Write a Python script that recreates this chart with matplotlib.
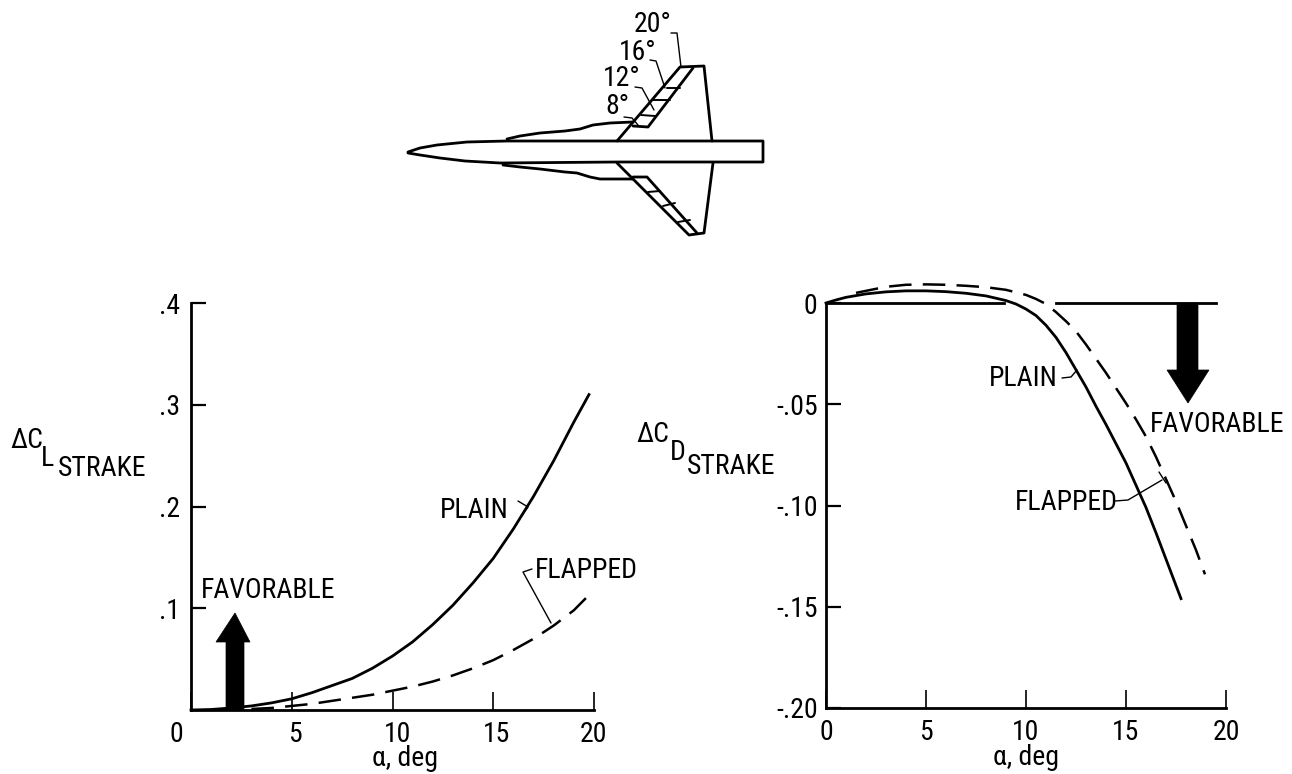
import matplotlib
matplotlib.use("Agg")
import matplotlib.pyplot as plt
from matplotlib.patches import Polygon
from matplotlib.textpath import TextPath
from matplotlib.font_manager import FontProperties
from matplotlib.transforms import ScaledTranslation

plt.rcParams['font.family'] = ['Liberation Sans Narrow', 'Roboto Condensed', 'Open Sans Condensed', 'Roboto', 'DejaVu Sans']

# ---- data ----
cl_plain_a = [0, 1, 2, 3, 4, 5, 6, 7, 8, 9, 10, 11, 12, 13, 14, 15, 16, 17, 18, 19, 19.75]
cl_plain_v = [0, .0005, .002, .004, .007, .011, .017, .024, .031, .041, .053, .067, .084, .103, .125, .149, .178, .210, .245, .283, .310]
cl_flap_a = [3, 4, 5, 6, 7, 8, 9, 10, 11, 12, 13, 14, 15, 16, 17, 18, 19, 19.85]
cl_flap_v = [.001, .002, .004, .006, .009, .012, .015, .019, .023, .028, .034, .041, .049, .059, .070, .083, .098, .115]

cd_plain_a = [0, .5, 1, 2, 3, 4, 5, 6, 7, 8, 9, 9.5, 10, 10.5, 11, 11.5, 12, 12.5, 13, 13.5, 14, 14.5, 15, 15.5, 16, 16.5, 17, 17.75]
cd_plain_v = [0, .0015, .0028, .0045, .0055, .006, .006, .0056, .0048, .0035, .0012, -.0005, -.003, -.0062, -.011, -.017, -.0245, -.033, -.0415, -.051, -.060, -.0695, -.079, -.090, -.101, -.1135, -.1265, -.146]
cd_flap_a = [1.5, 2, 3, 4, 5, 6, 7, 8, 9, 10, 10.5, 11, 11.5, 12, 12.5, 13, 13.5, 14, 14.5, 15, 15.5, 16, 16.5, 17, 17.5, 18, 18.5, 18.95]
cd_flap_v = [.005, .006, .008, .009, .0092, .009, .0085, .0078, .0065, .004, .002, -.0005, -.0045, -.009, -.014, -.0205, -.0275, -.0345, -.042, -.0495, -.0575, -.066, -.076, -.087, -.098, -.110, -.122, -.134]
cd_zero_left = [0, 8.9]
cd_zero_right = [11.5, 19.5]

x_ticks = [0, 5, 10, 15, 20]
x_labels = ['0', '5', '10', '15', '20']
cl_ticks = [0.1, 0.2, 0.3, 0.4]
cl_labels = ['.1', '.2', '.3', '.4']
cd_ticks = [0, -0.05, -0.10, -0.15, -0.20]
cd_labels = ['0', '-.05', '-.10', '-.15', '-.20']

# ---- schematic outline (pixel space of the figure) ----
fuselage = [(408, 152), (420, 148), (437, 145), (467, 142), (507, 141), (617, 141), (763, 141), (763, 162),
            (617, 162), (500, 163), (465, 161), (440, 158), (420, 155), (408, 153)]
strake_up = [(507, 139), (520, 136), (540, 133), (565, 131), (580, 129), (593, 125), (610, 123), (633, 122)]
strake_lo = [(503, 165), (520, 167), (540, 169), (565, 172), (577, 173), (590, 177), (600, 179), (633, 179)]
wing_up = [(617, 141), (680, 67), (704, 66), (712, 141)]
wing_lo = [(617, 163), (689, 235), (704, 233), (713, 163)]
hinge_up = [(693, 68), (648, 127), (633, 126)]
hinge_lo = [(697, 233), (647, 177), (633, 177)]
flap_cuts = [[(641, 115), (655, 116)], [(653, 100), (670, 100)], [(667, 88), (680, 88)],
             [(648, 192), (660, 191)], [(663, 206), (675, 203)], [(678, 222), (690, 220)]]
leaders_top = [[(671, 33), (677, 33), (681, 67)], [(650, 60), (656, 61), (665, 88)],
               [(635, 87), (642, 88), (654, 110)], [(624, 117), (632, 118), (638, 125)]]
angle_labels = [('20°', 653, 25), ('16°', 638, 52), ('12°', 622, 78), ('8°', 617, 106)]

W, H = 1292, 774
fig = plt.figure(figsize=(W / 100, H / 100), dpi=100, facecolor='white')

# font size chosen so that FAVORABLE is as wide as in the reference (131 px)
probe = TextPath((0, 0), 'FAVORABLE', size=10, prop=FontProperties())
FS = 10 * (131 * 0.72) / probe.get_extents().width


def axes_px(l, r, top, bottom):
    return fig.add_axes([l / W, 1 - bottom / H, (r - l) / W, (bottom - top) / H])


AXLW = 2.0

# ---- left panel ----
ax1 = axes_px(191, 594, 303, 710)
ax1.set_xlim(0, 20)
ax1.set_ylim(0, 0.4)
ax1.plot(cl_plain_a, cl_plain_v, color='black', lw=2.0, clip_on=False)
ax1.plot(cl_flap_a, cl_flap_v, color='black', lw=1.8, dashes=(9, 4.5), clip_on=False)
ax1.set_yticks(cl_ticks, cl_labels)
ax1.set_xticks(x_ticks, x_labels)
ax1.tick_params(axis='x', direction='in', length=13, width=1.2, pad=8, labelsize=FS)
ax1.tick_params(axis='y', direction='in', length=11, width=1.6, pad=8, labelsize=FS)
for lab, dx in zip(ax1.get_xticklabels(), [-15, 3, 5, 3, -1]):
    lab.set_transform(lab.get_transform() + ScaledTranslation(dx / 100, 0, fig.dpi_scale_trans))
ax1.set_xlabel('α, deg', fontsize=FS, va='center')
ax1.xaxis.set_label_coords(0.531, -0.120)

# ---- right panel ----
ax2 = axes_px(826, 1226, 303, 708)
ax2.set_xlim(0, 20)
ax2.set_ylim(-0.20, 0)
ax2.plot(cd_plain_a, cd_plain_v, color='black', lw=2.0, clip_on=False)
ax2.plot(cd_flap_a, cd_flap_v, color='black', lw=1.8, dashes=(9, 4.5), clip_on=False)
ax2.plot(cd_zero_left, [0, 0], color='black', lw=AXLW, clip_on=False)
ax2.plot(cd_zero_right, [0, 0], color='black', lw=AXLW, clip_on=False)
ax2.set_yticks(cd_ticks, cd_labels)
ax2.set_xticks(x_ticks, x_labels)
ax2.tick_params(axis='x', direction='in', length=13, width=1.2, pad=8, labelsize=FS)
ax2.tick_params(axis='y', direction='in', length=11, width=1.6, pad=6, labelsize=FS)
ax2.set_xlabel('α, deg', fontsize=FS, va='center')
ax2.xaxis.set_label_coords(0.5, -0.123)

for ax in (ax1, ax2):
    ax.patch.set_alpha(0)
    ax.spines['top'].set_visible(False)
    ax.spines['right'].set_visible(False)
    ax.spines['left'].set_linewidth(AXLW)
    ax.spines['bottom'].set_linewidth(AXLW)

# ---- overlay in pixel space ----
ov = fig.add_axes([0, 0, 1, 1], zorder=5)
ov.set_xlim(0, W)
ov.set_ylim(H, 0)
ov.axis('off')


def poly(pts, lw=1.8):
    ov.plot([p[0] for p in pts], [p[1] for p in pts], color='black', lw=lw,
            solid_joinstyle='round', solid_capstyle='round')


for shape in (fuselage, wing_up, wing_lo, strake_up, strake_lo, hinge_up, hinge_lo):
    poly(shape, 2.0)
for cut in flap_cuts:
    poly(cut, 1.4)
for lead in leaders_top:
    poly(lead, 1.0)
for txt, x, y in angle_labels:
    ov.text(x, y, txt, fontsize=FS, ha='center', va='center')

# favourable arrows
ov.add_patch(Polygon([(226, 710), (226, 642), (216, 642), (235, 613), (250, 642), (244, 642), (244, 710)],
                     closed=True, fc='black', ec='black', lw=0.5))
ov.add_patch(Polygon([(1177, 303), (1177, 370), (1167, 370), (1188, 403), (1209, 370), (1198, 370), (1198, 303)],
                     closed=True, fc='black', ec='black', lw=0.5))

# annotations
notes = [('FAVORABLE', 201, 590), ('PLAIN', 440, 510), ('FLAPPED', 535, 570),
         ('PLAIN', 989, 378), ('FLAPPED', 1015, 503), ('FAVORABLE', 1150, 425)]
for txt, x, y in notes:
    ov.text(x, y, txt, fontsize=FS, ha='left', va='center')
poly([(518, 501), (528, 507), (522, 515)], 1.0)
poly([(532, 569), (523, 572), (551, 623)], 1.0)
poly([(1062, 378), (1071, 377), (1077, 370)], 1.0)
poly([(1115, 501), (1128, 500), (1162, 480)], 1.0)
poly([(1159, 472), (1166, 483)], 1.0)

# y-axis titles
for txt, x, y, ha in [('ΔC', 10, 440, 'left'), ('L', 41, 458, 'left'), ('STRAKE', 58, 468, 'left'),
                      ('ΔC', 636, 435, 'left'), ('D', 670, 452, 'left'), ('STRAKE', 687, 466, 'left')]:
    ov.text(x, y, txt, fontsize=FS, ha=ha, va='center')

fig.savefig('out.png', dpi=100)
